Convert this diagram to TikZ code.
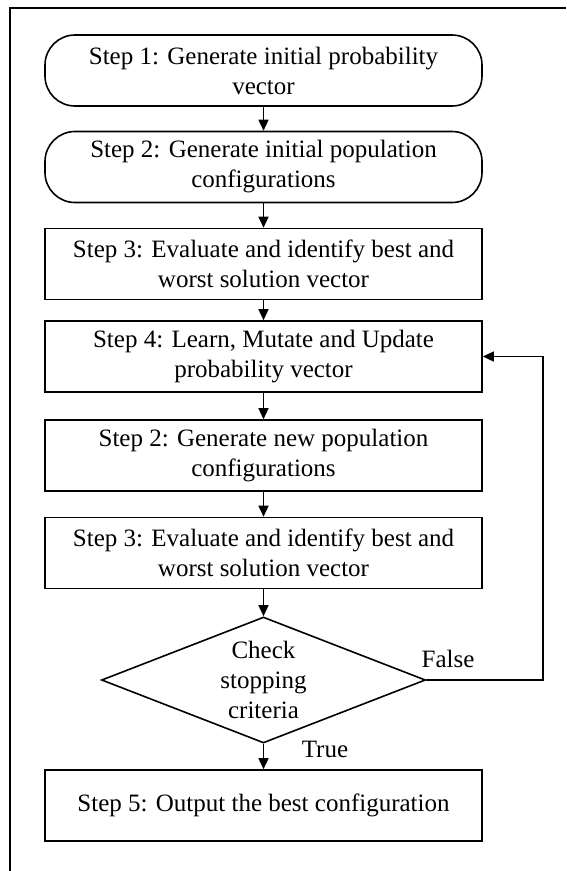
\documentclass[tikz,border=0pt]{standalone}
\usepackage{fontspec}
\setmainfont{Liberation Serif}
\usetikzlibrary{shapes.geometric,arrows.meta}

\begin{document}
\begin{tikzpicture}[x=1pt,y=-1pt,
    font=\fontsize{25}{30}\selectfont,
    stepbox/.style={draw,line width=1.6pt,minimum width=437pt,minimum height=71pt,align=center,inner sep=0pt},
    startbox/.style={stepbox,rounded corners=30pt},
    decision/.style={draw,line width=1.6pt,diamond,aspect=2.57,minimum width=324pt,minimum height=126pt,align=center,inner sep=0pt},
    flow/.style={line width=1.5pt,-{Triangle[length=11pt,width=10pt]}}]
        % Frame
        \useasboundingbox (0,0) rectangle (566,871);
        \draw[line width=1.3pt] (10,871) -- (10,8) -- (566,8);

        % Steps
        \node[startbox] (init) at (263.5,70.5) {Step 1: Generate initial probability\\vector};
        \node[startbox] (pop) at (263.5,167) {Step 2: Generate initial population\\configurations};
        \node[stepbox] (eval) at (263.5,264) {Step 3: Evaluate and identify best and\\worst solution vector};
        \node[stepbox] (learn) at (263.5,356.5) {Step 4: Learn, Mutate and Update\\probability vector};
        \node[stepbox] (newpop) at (263.5,455.5) {Step 2: Generate new population\\configurations};
        \node[stepbox] (neweval) at (263.5,553) {Step 3: Evaluate and identify best and\\worst solution vector};
        \node[decision] (check) at (263.5,680) {Check\\stopping\\criteria};
        \node[stepbox] (output) at (263.5,805.5) {Step 5: Output the best configuration};

        % Labels
        \node (false) at (448,659) {False};
        \node (true) at (325,749) {True};

        % Flow
        \foreach \a/\b in {init/pop,pop/eval,eval/learn,learn/newpop,newpop/neweval,neweval/check,check/output}
            \draw[flow] (\a) -- (\b);
        \coordinate (loop) at (543,680);
        \draw[flow] (check.east) -- (loop) |- (learn.east);

    \end{tikzpicture}
\end{document}
